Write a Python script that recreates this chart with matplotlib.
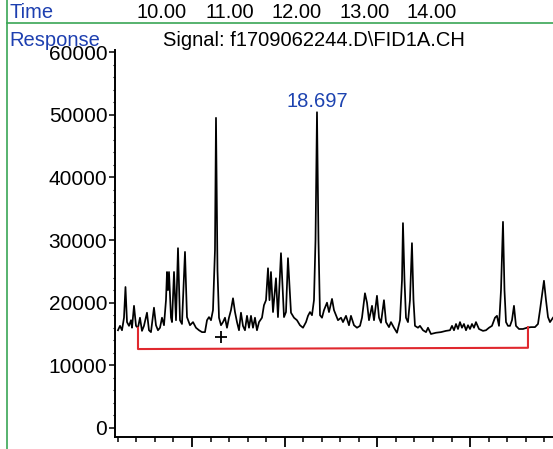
import matplotlib
matplotlib.use("Agg")
import matplotlib.pyplot as plt
from matplotlib.ticker import MultipleLocator, NullFormatter

plt.rcParams["font.family"] = ["Liberation Sans", "DejaVu Sans"]

# retention time (min) and detector response
time_min = [
    14.403, 14.447, 14.490, 14.533, 14.565, 14.598, 14.641, 14.684, 14.706, 14.749,
    14.792, 14.835, 14.878, 14.921, 14.964, 15.029, 15.072, 15.115, 15.180, 15.223,
    15.266, 15.310, 15.353, 15.396, 15.439, 15.461, 15.482, 15.504, 15.547, 15.569,
    15.612, 15.655, 15.698, 15.741, 15.784, 15.849, 15.892, 15.957, 16.022, 16.086,
    16.151, 16.216, 16.280, 16.324, 16.367, 16.410, 16.453, 16.496, 16.518, 16.550,
    16.583, 16.626, 16.669, 16.712, 16.755, 16.798, 16.841, 16.885, 16.928, 16.971,
    17.014, 17.057, 17.100, 17.143, 17.187, 17.230, 17.273, 17.316, 17.359, 17.402,
    17.446, 17.510, 17.553, 17.597, 17.640, 17.672, 17.704, 17.748, 17.812, 17.855,
    17.920, 17.985, 18.028, 18.071, 18.136, 18.201, 18.265, 18.330, 18.395, 18.460,
    18.503, 18.546, 18.589, 18.632, 18.665, 18.697, 18.729, 18.762, 18.805, 18.848,
    18.913, 18.956, 19.021, 19.064, 19.107, 19.150, 19.215, 19.258, 19.323, 19.387,
    19.430, 19.495, 19.560, 19.625, 19.668, 19.732, 19.776, 19.819, 19.884, 19.927,
    19.991, 20.035, 20.078, 20.142, 20.186, 20.250, 20.293, 20.358, 20.423, 20.488,
    20.531, 20.552, 20.585, 20.617, 20.660, 20.703, 20.746, 20.779, 20.811, 20.876,
    20.919, 20.984, 21.049, 21.092, 21.156, 21.264, 21.372, 21.480, 21.566, 21.610,
    21.653, 21.696, 21.739, 21.782, 21.825, 21.868, 21.912, 21.955, 21.998, 22.041,
    22.084, 22.127, 22.192, 22.278, 22.343, 22.408, 22.472, 22.537, 22.580, 22.624,
    22.667, 22.710, 22.742, 22.775, 22.818, 22.861, 22.904, 22.947, 22.990, 23.055,
    23.141, 23.228, 23.314, 23.400, 23.465, 23.508, 23.551, 23.594, 23.638, 23.681,
    23.724, 23.789,
]
response = [
    15600, 16300, 15600, 17600, 22500, 16900, 16300, 17200, 16000, 19500,
    16300, 16000, 17600, 15500, 16300, 18400, 15600, 15300, 19200, 16400,
    15600, 16000, 17600, 16400, 20400, 24900, 22000, 24900, 17600, 16900,
    24900, 17200, 28700, 17200, 16600, 28100, 17700, 16400, 16900, 16000,
    15600, 15300, 15300, 17200, 17700, 17200, 18800, 28400, 49500, 25200,
    17600, 16400, 16900, 17600, 16000, 17600, 18800, 20700, 18500, 16900,
    15600, 18400, 16300, 15600, 17900, 16000, 17900, 16000, 17600, 15600,
    16900, 17600, 19600, 20400, 25500, 20400, 24900, 18500, 23900, 17700,
    27900, 17700, 18500, 27100, 18400, 17600, 17200, 16400, 16000, 16900,
    17900, 18500, 18000, 20400, 30000, 50400, 30000, 18000, 17600, 18800,
    20000, 18500, 20600, 18800, 18000, 17200, 17600, 16900, 17900, 16400,
    17900, 16400, 16000, 16300, 17600, 21500, 20000, 17200, 19500, 17200,
    21100, 17600, 16800, 20400, 16900, 16100, 16900, 16000, 15200, 17200,
    23600, 32700, 23600, 17600, 16900, 20400, 29500, 20400, 16300, 16000,
    16300, 15600, 15300, 16000, 15000, 15200, 15300, 15500, 15600, 16300,
    15600, 16600, 15800, 16900, 16000, 16600, 15600, 16400, 15800, 16600,
    16000, 16900, 15800, 15500, 15600, 16000, 16300, 17600, 17900, 16300,
    22000, 32900, 22000, 16900, 16300, 16300, 17200, 19500, 16300, 15800,
    15800, 16000, 16100, 16100, 16600, 18800, 21200, 23500, 20400, 17700,
    16900, 17600,
]

# integration baseline (drawn in red) and the "+" marker
baseline_time = [14.835, 14.835, 23.249, 23.249]
baseline_resp = [16000, 12600, 12800, 16100]
marker_time = 16.619
marker_resp = 14600
peak_label = "18.697"
peak_time = 18.697
peak_resp = 50400

header_times = ["10.00", "11.00", "12.00", "13.00", "14.00"]

W, H = 553, 449
fig = plt.figure(figsize=(W / 100, H / 100), dpi=100)
ax = fig.add_axes([115 / W, (H - 437) / H, 1 - 115 / W, (437 - 50) / H])

ax.plot(time_min, response, color="black", lw=1.25)
ax.plot(baseline_time, baseline_resp, color="#e0282e", lw=1.5)
ax.plot([marker_time], [marker_resp], marker="+", color="black", ms=9, mew=1.3)
ax.text(peak_time, peak_resp + 200, peak_label, color="#1d43b0", fontsize=14.5,
        ha="center", va="bottom")

ax.set_xlim(14.339, 23.789)
ax.set_ylim(-1440, 60330)
ax.spines["top"].set_visible(False)
ax.spines["right"].set_visible(False)
for sp in ("left", "bottom"):
    ax.spines[sp].set_linewidth(1.4)

ax.yaxis.set_major_locator(MultipleLocator(10000))
ax.yaxis.set_minor_locator(MultipleLocator(2000))
ax.xaxis.set_major_locator(MultipleLocator(2))
ax.xaxis.set_minor_locator(MultipleLocator(0.4))
ax.xaxis.set_major_formatter(NullFormatter())
ax.tick_params(axis="y", which="major", length=4, width=1.1, labelsize=15, pad=1.5)
ax.tick_params(axis="y", which="minor", length=1.5, width=0.8)
ax.tick_params(axis="x", which="major", length=7, width=1.3)
ax.tick_params(axis="x", which="minor", length=3.5, width=1.1)

# header area above the plot
blue = "#1d3fb0"
green = "#3aa655"
fig.add_artist(plt.Line2D([7 / W, 1], [1 - 22.5 / H, 1 - 22.5 / H],
                          color=green, lw=1.2, transform=fig.transFigure))
fig.add_artist(plt.Line2D([7 / W, 7 / W], [0, 1],
                          color=green, lw=1.2, transform=fig.transFigure))
fig.text(9 / W, 1 - 13 / H, "Time", color=blue, fontsize=14.5, va="center")
for i, lab in enumerate(header_times):
    fig.text((162 + 67.5 * i) / W, 1 - 12 / H, lab, color="black", fontsize=14.5,
             ha="center", va="center")
fig.text(9 / W, 1 - 40 / H, "Response", color=blue, fontsize=14.5, va="center")
fig.text(314 / W, 1 - 40 / H, "Signal: f1709062244.D\\FID1A.CH", color="black",
         fontsize=14.5, ha="center", va="center")

fig.savefig("out.png", dpi=100)
